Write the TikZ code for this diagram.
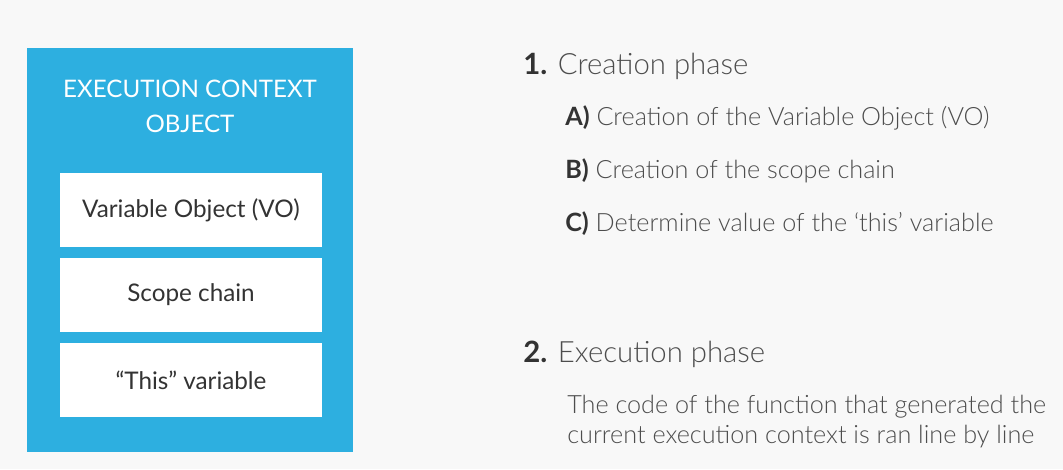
\documentclass[tikz,border=0pt]{standalone}
\usepackage{fontspec}
\setmainfont{Lato}
\newfontfamily\latolight[Ligatures=TeX]{Lato Light}
\usetikzlibrary{positioning}

\definecolor{ecblue}{HTML}{2DAFE0}
\definecolor{pagegray}{HTML}{F8F8F8}
\definecolor{slottext}{HTML}{333333}
\definecolor{phasetext}{HTML}{4D4D4D}

\begin{document}
\begin{tikzpicture}[x=0.75pt, y=-0.75pt,
    slot/.style={fill=white, minimum width=196.5pt, minimum height=55.5pt,
        inner sep=0pt, text=slottext, font=\fontsize{18.2}{22}\selectfont},
    phase/.style={anchor=base west, inner sep=0pt, text=phasetext,
        font=\latolight\fontsize{22}{26}\selectfont},
    substep/.style={anchor=base west, inner sep=0pt, text=phasetext,
        font=\latolight\fontsize{18.9}{22}\selectfont}]

    % Page background
    \fill[pagegray] (0, 0) rectangle (1063, 469);
    \useasboundingbox (0, 0) rectangle (1063, 469);

    % Execution context object
    \node[fill=ecblue, minimum width=244.5pt, minimum height=303pt, inner sep=0pt] (ecobj) at (190, 250) {};
    \node[align=center, text=white, font=\fontsize{18.1}{26.25}\selectfont] (title) at (190, 106) {EXECUTION CONTEXT\\OBJECT};
    \node[slot] (vo) at (191, 210) {Variable Object (VO)};
    \node[slot] (chain) at (191, 295) {Scope chain};
    \node[slot] (thisvar) at (191, 380) {``This'' variable};

    % Creation phase
    \node[phase] (create) at (523, 74) {{\rmfamily\bfseries\color{slottext}1.} Creation phase};
    \node[substep] (stepa) at (565, 125) {{\rmfamily\bfseries\color{slottext}A)} Creation of the Variable Object (VO)};
    \node[substep] (stepb) at (565, 178) {{\rmfamily\bfseries\color{slottext}B)} Creation of the scope chain};
    \node[substep] (stepc) at (565, 231) {{\rmfamily\bfseries\color{slottext}C)} Determine value of the `this' variable};

    % Execution phase
    \node[phase] (execute) at (523, 362) {{\rmfamily\bfseries\color{slottext}2.} Execution phase};
    \node[substep] (runa) at (567, 413) {The code of the function that generated the};
    \node[substep] (runb) at (567, 443) {current execution context is ran line by line};
\end{tikzpicture}
\end{document}
